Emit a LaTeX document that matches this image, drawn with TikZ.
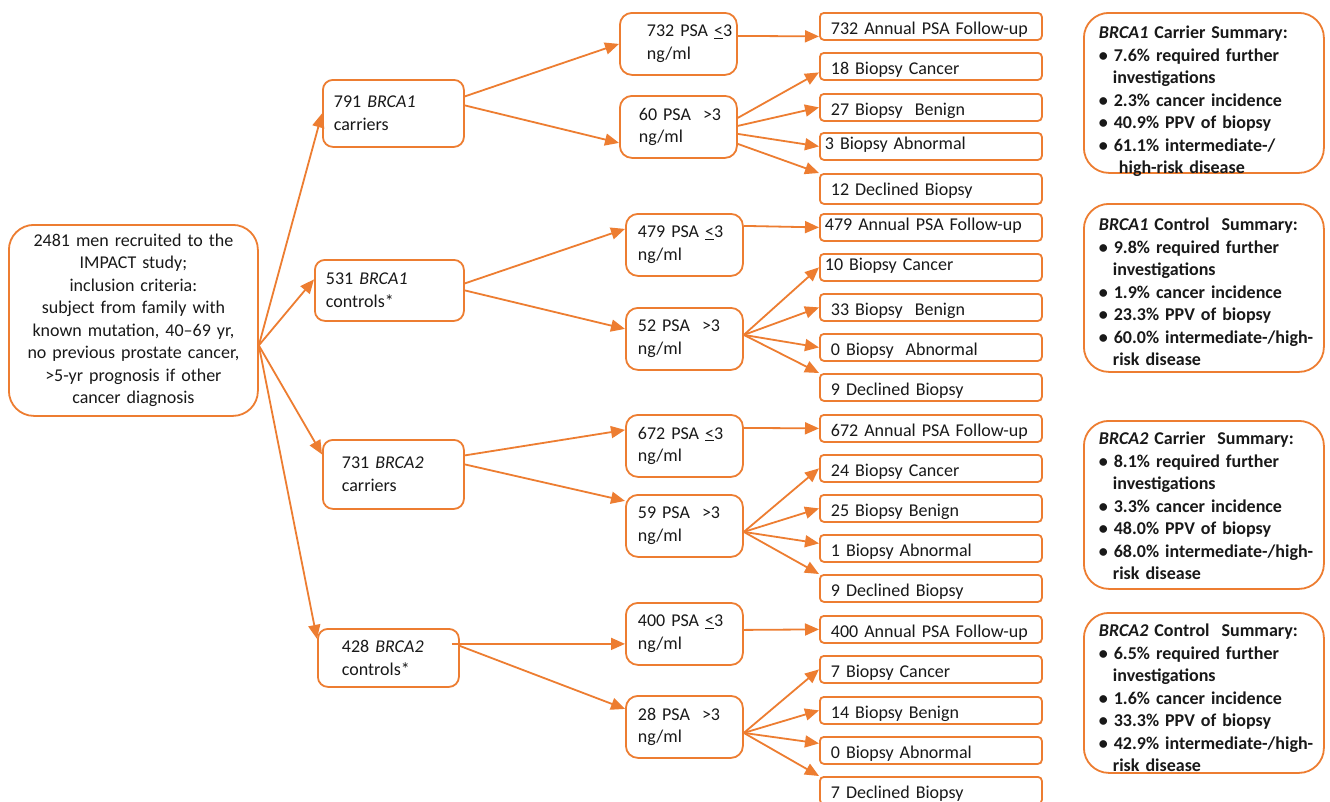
\documentclass[tikz,border=0pt]{standalone}
\usepackage{fontspec}
\setmainfont{Carlito}
\usetikzlibrary{arrows.meta}
\definecolor{impactorange}{HTML}{ED7D31}

\tikzset{
  box/.style={draw=impactorange, line width=1.8pt, fill=white, text=black!90,
    anchor=north west, align=left, font=\fontsize{18}{22.5}\selectfont},
  startbox/.style={box, rounded corners=25pt, align=center, inner xsep=8pt,
    text width=233pt, minimum height=191pt},
  groupbox/.style={box, rounded corners=10pt},
  psabox/.style={box, rounded corners=12pt, inner xsep=12pt, text width=93pt,
    minimum height=62pt},
  outbox/.style={box, rounded corners=4pt, inner xsep=11pt, text width=200pt,
    inner ysep=0pt, text height=22pt, text depth=5pt},
  outtight/.style={inner xsep=5pt, text width=212pt, text height=17pt, text depth=10pt},
  sumbox/.style={box, rounded corners=25pt, inner xsep=0pt, inner ysep=0pt,
    text width=240pt, font=\fontsize{18}{22.5}\selectfont\bfseries},
  link/.style={draw=impactorange, line width=1.8pt, -{Triangle[length=14pt,width=12pt]}}
}

\begin{document}
\begin{tikzpicture}[x=1pt, y=-1pt]
  \fill[white] (0,0) rectangle (1330,801);
  \useasboundingbox (0,0) rectangle (1330,801);

  \node[startbox] (root) at (8,224) {2481 men recruited to the\\IMPACT study;\\inclusion criteria:\\subject from family with\\known mutation, 40--69 yr,\\no previous prostate cancer,\\>5-yr prognosis if other\\cancer diagnosis};

  \node[groupbox, inner xsep=11pt, text width=119pt, minimum height=67pt] (car1) at (322,79) {791 \textit{BRCA1}\\carriers};
  \node[groupbox, inner xsep=11pt, text width=127pt, minimum height=61pt] (con1) at (314,259) {531 \textit{BRCA1}\\controls*};
  \node[groupbox, inner xsep=19pt, text width=103pt, minimum height=69pt] (car2) at (322,439) {731 \textit{BRCA2}\\carriers};
  \node[groupbox, inner xsep=24pt, text width=93pt, minimum height=58pt] (con2) at (317,628) {428 \textit{BRCA2}\\controls*};

  \node[psabox, inner xsep=27pt, text width=63pt] (low1) at (619,12) {732~PSA~\underline{<}3\\ng/ml};
  \node[psabox, inner xsep=19pt, text width=79pt] (high1) at (619,95) {60~PSA~~>3\\ng/ml};
  \node[psabox] (low2) at (625,213) {479 PSA \underline{<}3\\ng/ml};
  \node[psabox] (high2) at (625,307) {52 PSA~ >3\\ng/ml};
  \node[psabox] (low3) at (625,414) {672 PSA \underline{<}3\\ng/ml};
  \node[psabox] (high3) at (625,494) {59 PSA~ >3\\ng/ml};
  \node[psabox] (low4) at (625,602) {400 PSA \underline{<}3\\ng/ml};
  \node[psabox] (high4) at (625,695) {28 PSA~ >3\\ng/ml};

  \node[outbox] (fu1) at (819,12) {\mbox{732 Annual PSA Follow-up}};
  \node[outbox] (can1) at (819,52) {18 Biopsy Cancer};
  \node[outbox] (ben1) at (819,93) {27 Biopsy~ Benign};
  \node[outbox, outtight] (abn1) at (819,132) {3 Biopsy Abnormal};
  \node[outbox, text depth=8pt] (dec1) at (819,173) {12 Declined Biopsy};

  \node[outbox, outtight] (fu2) at (819,213) {\mbox{479 Annual PSA Follow-up}};
  \node[outbox, outtight] (can2) at (819,253) {10 Biopsy Cancer};
  \node[outbox] (ben2) at (819,293) {33 Biopsy~ Benign};
  \node[outbox] (abn2) at (819,333) {0 Biopsy~ Abnormal};
  \node[outbox] (dec2) at (819,373) {9 Declined Biopsy};

  \node[outbox] (fu3) at (819,414) {\mbox{672 Annual PSA Follow-up}};
  \node[outbox] (can3) at (819,454) {24 Biopsy Cancer};
  \node[outbox] (ben3) at (819,494) {25 Biopsy Benign};
  \node[outbox] (abn3) at (819,534) {1 Biopsy Abnormal};
  \node[outbox] (dec3) at (819,574) {9 Declined Biopsy};

  \node[outbox] (fu4) at (819,615) {\mbox{400 Annual PSA Follow-up}};
  \node[outbox] (can4) at (819,655) {7 Biopsy Cancer};
  \node[outbox] (ben4) at (819,696) {14 Biopsy Benign};
  \node[outbox] (abn4) at (819,736) {0 Biopsy Abnormal};
  \node[outbox] (dec4) at (819,776) {7 Declined Biopsy};

  \node[sumbox, text height=26pt, text depth=134pt] (sum1) at (1083,12) {\begin{tabular}[t]{@{\hspace{15pt}}l@{}}
    \textit{BRCA1} Carrier Summary:\\
    • 7.6\% required further\\
    \hspace{14pt}investigations\\
    • 2.3\% cancer incidence\\
    • 40.9\% PPV of biopsy\\
    • 61.1\% intermediate-/\\
    \hspace{20pt}high-risk disease
  \end{tabular}};
  \node[sumbox, text height=27pt, text depth=141pt] (sum2) at (1083,203) {\begin{tabular}[t]{@{\hspace{15pt}}l@{}}
    \textit{BRCA1} Control~ Summary:\\
    • 9.8\% required further\\
    \hspace{14pt}investigations\\
    • 1.9\% cancer incidence\\
    • 23.3\% PPV of biopsy\\
    • 60.0\% intermediate-/high-\\
    \hspace{14pt}risk disease
  \end{tabular}};
  \node[sumbox, text height=24pt, text depth=144pt] (sum3) at (1083,420) {\begin{tabular}[t]{@{\hspace{15pt}}l@{}}
    \textit{BRCA2} Carrier~ Summary:\\
    • 8.1\% required further\\
    \hspace{14pt}investigations\\
    • 3.3\% cancer incidence\\
    • 48.0\% PPV of biopsy\\
    • 68.0\% intermediate-/high-\\
    \hspace{14pt}risk disease
  \end{tabular}};
  \node[sumbox, text height=24pt, text depth=136pt] (sum4) at (1083,612) {\begin{tabular}[t]{@{\hspace{15pt}}l@{}}
    \textit{BRCA2} Control~ Summary:\\
    • 6.5\% required further\\
    \hspace{14pt}investigations\\
    • 1.6\% cancer incidence\\
    • 33.3\% PPV of biopsy\\
    • 42.9\% intermediate-/high-\\
    \hspace{14pt}risk disease
  \end{tabular}};

  \draw[link] ([yshift=-25pt]root.east) -- (car1.west);
  \draw[link] ([yshift=-25pt]root.east) -- ([yshift=11pt]con1.west);
  \draw[link] ([yshift=-25pt]root.east) -- ([yshift=20pt]car2.west);
  \draw[link] ([yshift=-25pt]root.east) -- ([yshift=19pt]con2.west);

  \draw[link] ([yshift=17pt]car1.east) -- (low1.west);
  \draw[link] ([yshift=8pt]car1.east) -- ([yshift=-16pt]high1.west);
  \draw[link] ([yshift=7pt]con1.east) -- ([yshift=16pt]low2.west);
  \draw[link] (con1.east) -- ([yshift=10pt]high2.west);
  \draw[link] ([yshift=19pt]car2.east) -- ([yshift=16pt]low3.west);
  \draw[link] ([yshift=10pt]car2.east) -- ([yshift=25pt]high3.west);
  \draw[link] ([xshift=-8pt,yshift=14pt]con2.east) -- ([yshift=-10pt]low4.west);
  \draw[link] ([yshift=12pt]con2.east) -- ([yshift=18pt]high4.west);

  \draw[link] ([yshift=8pt]low1.east) -- ([yshift=-10pt]fu1.west);
  \draw[link] ([yshift=9pt]high1.east) -- ([yshift=-6pt]can1.west);
  \draw[link] ([yshift=1pt]high1.east) -- (ben1.west);
  \draw[link] ([yshift=-7pt]high1.east) -- (abn1.west);
  \draw[link] ([yshift=-17pt]high1.east) -- (dec1.north west);

  \draw[link] ([yshift=19pt]low2.east) -- (fu2.west);
  \draw[link] ([yshift=4pt]high2.east) -- (can2.west);
  \draw[link] ([yshift=4pt]high2.east) -- (ben2.west);
  \draw[link] ([yshift=4pt]high2.east) -- (abn2.west);
  \draw[link] ([yshift=4pt]high2.east) -- (dec2.north west);

  \draw[link] ([yshift=18pt]low3.east) -- (fu3.west);
  \draw[link] ([yshift=-6pt]high3.east) -- (can3.west);
  \draw[link] ([yshift=-6pt]high3.east) -- (ben3.west);
  \draw[link] ([yshift=-6pt]high3.east) -- ([yshift=5pt]abn3.west);
  \draw[link] ([yshift=-6pt]high3.east) -- (dec3.north west);

  \draw[link] ([yshift=4pt]low4.east) -- (fu4.west);
  \draw[link] ([yshift=-6pt]high4.east) -- (can4.west);
  \draw[link] ([yshift=-6pt]high4.east) -- (ben4.west);
  \draw[link] ([yshift=-6pt]high4.east) -- ([yshift=7pt]abn4.west);
  \draw[link] ([yshift=-6pt]high4.east) -- (dec4.north west);
\end{tikzpicture}
\end{document}
